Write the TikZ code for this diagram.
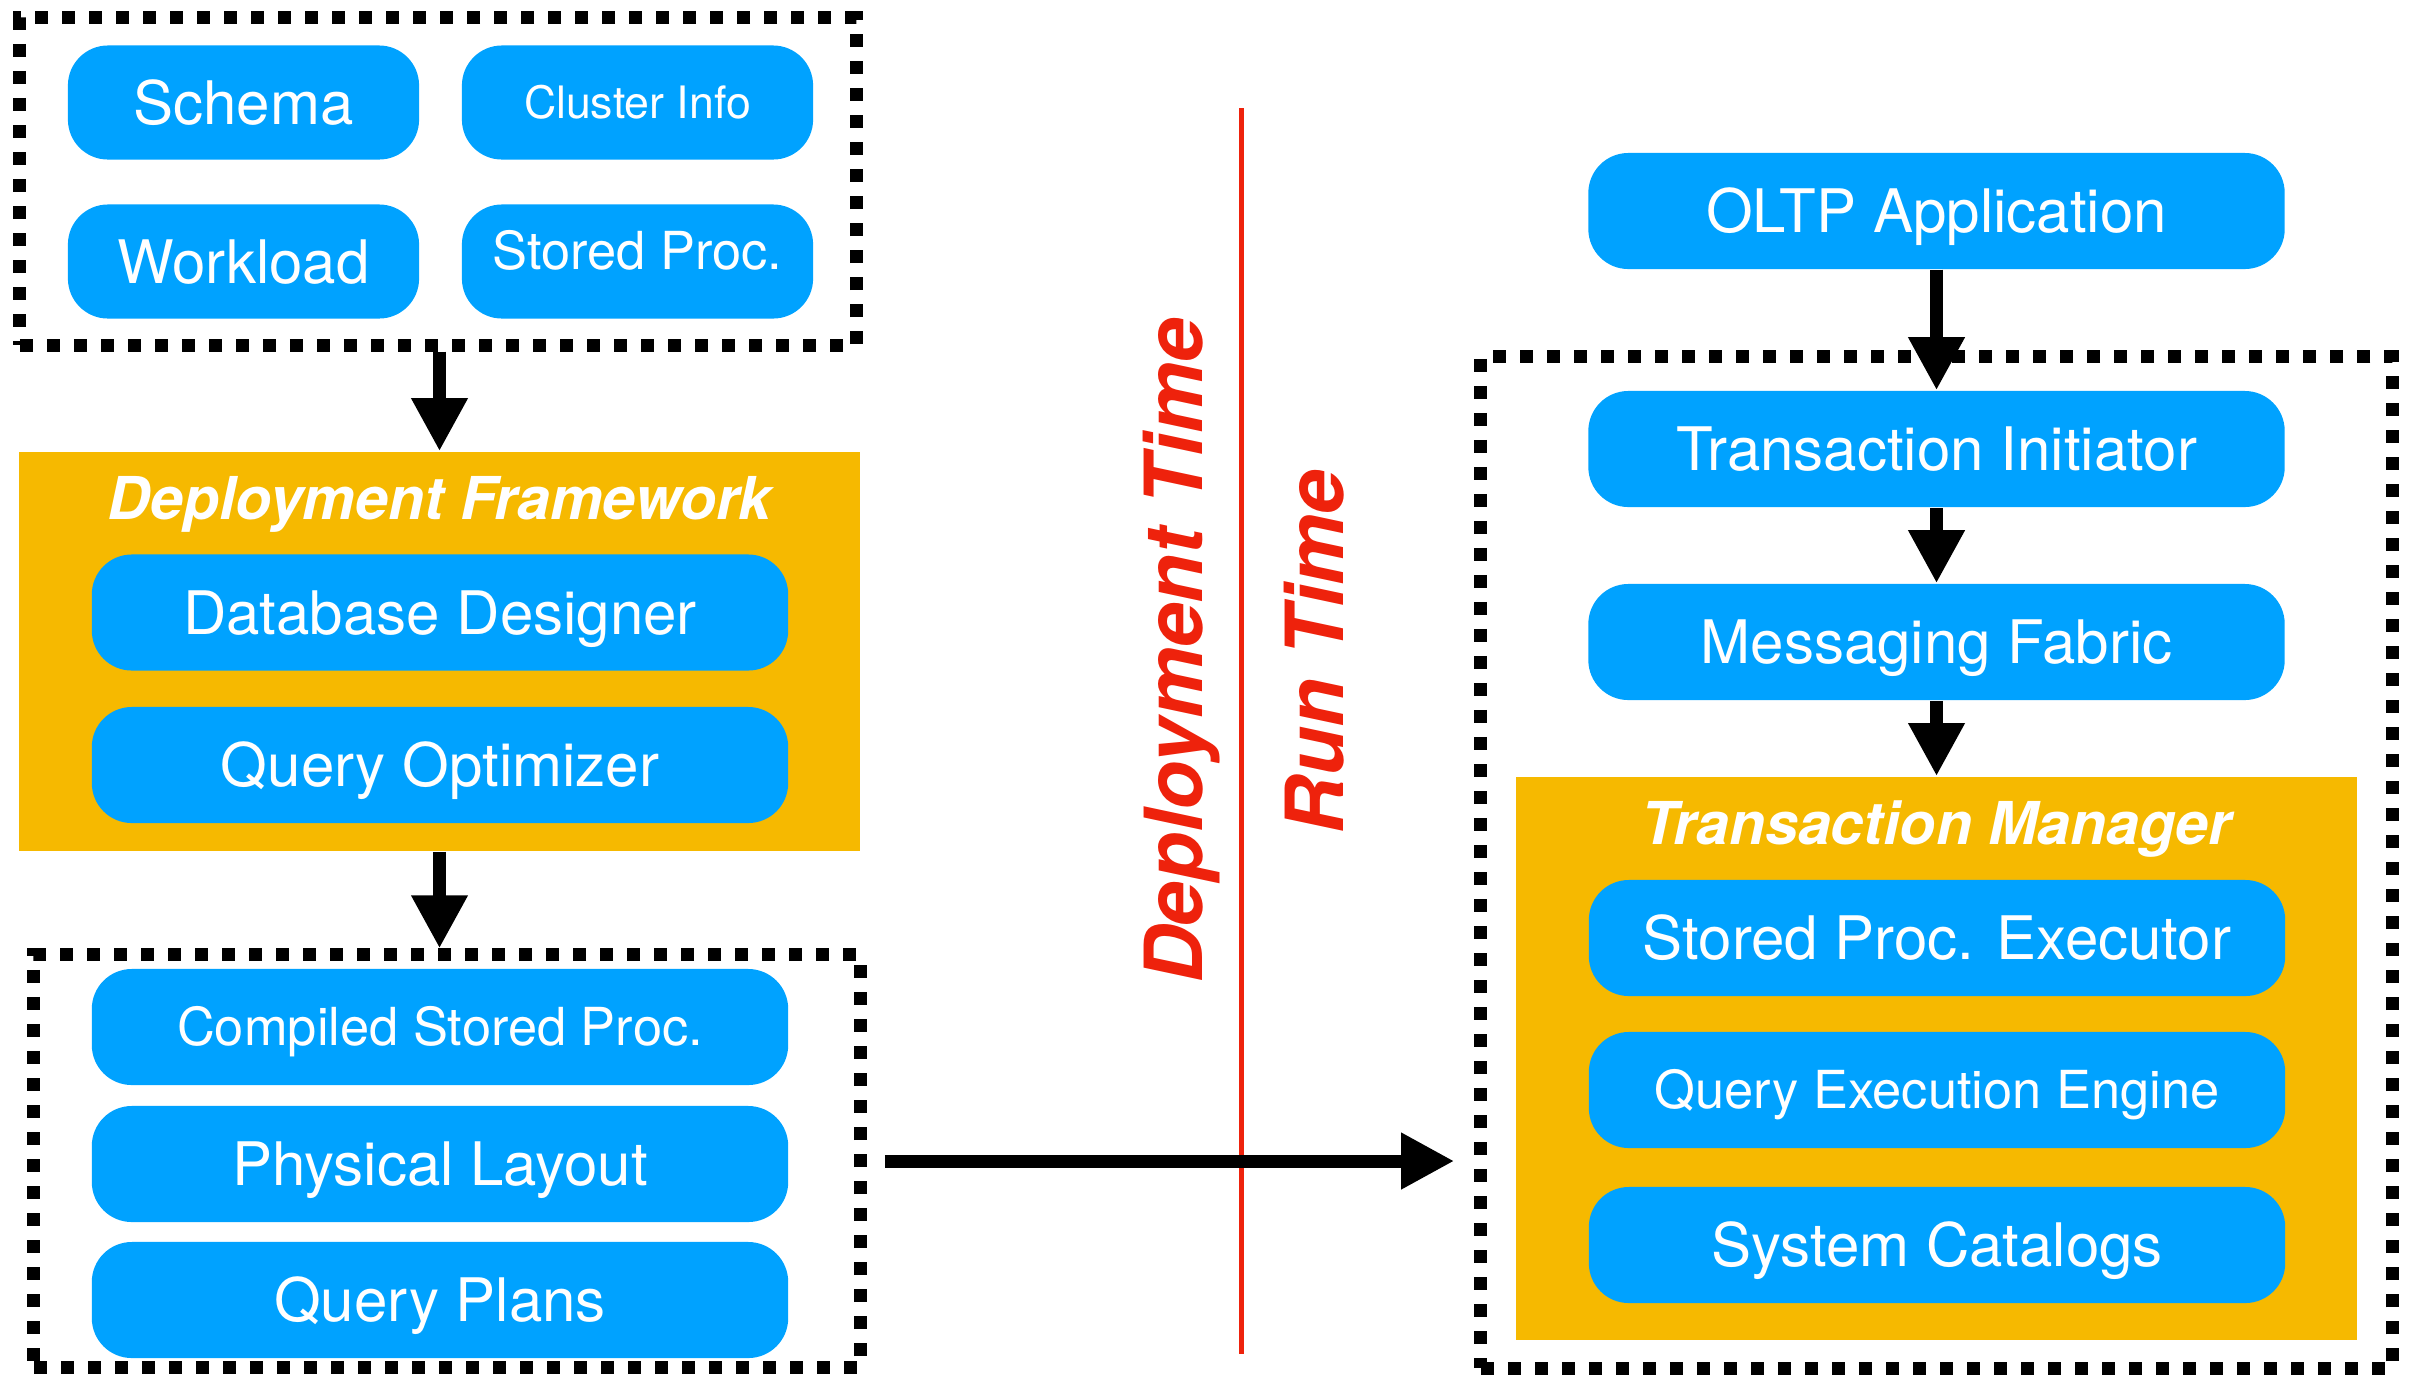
\documentclass[tikz,border=0pt]{standalone}
\usepackage{fontspec}
\setmainfont{TeX Gyre Heros}
\usetikzlibrary{arrows.meta}
\definecolor{boxblue}{HTML}{00A2FF}
\definecolor{frameorange}{HTML}{F6B900}
\definecolor{timered}{HTML}{EE220C}

\tikzset{
  comp/.style={rectangle, rounded corners=0.4cm, fill=boxblue, text=white,
    inner sep=0pt, minimum width=6.96cm, minimum height=1.16cm,
    text height=0.43cm, text depth=0pt, font=\fontsize{17.07pt}{20pt}\selectfont},
  half/.style={comp, minimum width=3.51cm, minimum height=1.14cm},
  midtext/.style={text height=0.378cm, font=\fontsize{14.9pt}{18pt}\selectfont},
  smalltext/.style={text height=0.321cm, font=\fontsize{12.7pt}{15pt}\selectfont},
  frame/.style={rectangle, fill=frameorange, inner sep=0pt},
  frametitle/.style={text=white, anchor=base, inner sep=0pt,
    font=\fontsize{16.8pt}{20pt}\selectfont\bfseries\itshape},
  dotbox/.style={rectangle, draw=black, line width=0.13cm,
    dash pattern=on 0.13cm off 0.14cm, inner sep=0pt},
  arr/.style={-{Triangle[length=0.53cm,width=0.53cm]}, line width=0.13cm, draw=black},
  phase/.style={text=timered, rotate=90, anchor=base, inner sep=0pt,
    font=\fontsize{22.8pt}{26pt}\selectfont\bfseries\itshape},
  divider/.style={draw=timered, line width=0.05cm},
}

\begin{document}
\begin{tikzpicture}[x=0.01cm, y=-0.01cm]
\useasboundingbox (0,0) rectangle (2413,1378);

% ---- deployment inputs ----
\node[dotbox, minimum width=8.36cm, minimum height=3.27cm] (inputs) at (438,181.5) {};
\node[half] (schema)   at (243.5,102.5) {Schema};
\node[half, smalltext] (cluster) at (637.5,102.5) {Cluster Info};
\node[half] (workload) at (243.5,261.5) {Workload};
\node[half, midtext, text depth=0.22cm] (sproc) at (637.5,261.5) {Stored Proc.};

% ---- deployment framework ----
\node[frame, minimum width=8.41cm, minimum height=3.99cm] (deploy) at (439.5,651.5) {};
\node[frametitle] (deploytitle) at (439.5,519) {Deployment Framework};
\node[comp] (designer)  at (440,612.5) {Database Designer};
\node[comp] (optimizer) at (440,765) {Query Optimizer};

% ---- deployment outputs ----
\node[dotbox, minimum width=8.26cm, minimum height=4.12cm] (outputs) at (447,1161) {};
\node[comp, midtext] (compiled) at (440,1027) {Compiled Stored Proc.};
\node[comp] (layout) at (440,1164) {Physical Layout};
\node[comp] (plans)  at (440,1300) {Query Plans};

% ---- run-time system ----
\node[dotbox, minimum width=9.11cm, minimum height=10.11cm] (runtime) at (1936.5,862.5) {};
\node[comp] (oltp)      at (1936.5,211) {OLTP Application};
\node[comp] (initiator) at (1936.5,449) {Transaction Initiator};
\node[comp] (fabric)    at (1936.5,642) {Messaging Fabric};
\node[frame, minimum width=8.41cm, minimum height=5.63cm] (txnmgr) at (1936.5,1058.5) {};
\node[frametitle] (txntitle) at (1936.5,844) {Transaction Manager};
\node[comp] (executor) at (1937,938) {Stored Proc. Executor};
\node[comp, midtext] (engine) at (1937,1090) {Query Execution Engine};
\node[comp] (catalogs) at (1937,1245) {System Catalogs};

% ---- phase divider ----
\coordinate (divtop) at (1241,108);
\coordinate (divbot) at (1241,1354);
\draw[divider] (divtop) -- (divbot);
\node[phase] (deploytime) at (1202,651) {Deployment Time};
\node[phase] (runtimelbl) at (1343,652) {Run Time};

% ---- flow ----
\draw[arr] (inputs.south -| deploy.north) -- (deploy.north);
\draw[arr] (deploy.south) -- (deploy.south |- outputs.north);
\draw[arr, shorten <=0.18cm, shorten >=0.2cm] (outputs.east) -- (outputs.east -| runtime.west);
\draw[arr] (oltp.south) -- (initiator.north);
\draw[arr] (initiator.south) -- (fabric.north);
\draw[arr] (fabric.south) -- (txnmgr.north);
\end{tikzpicture}
\end{document}
